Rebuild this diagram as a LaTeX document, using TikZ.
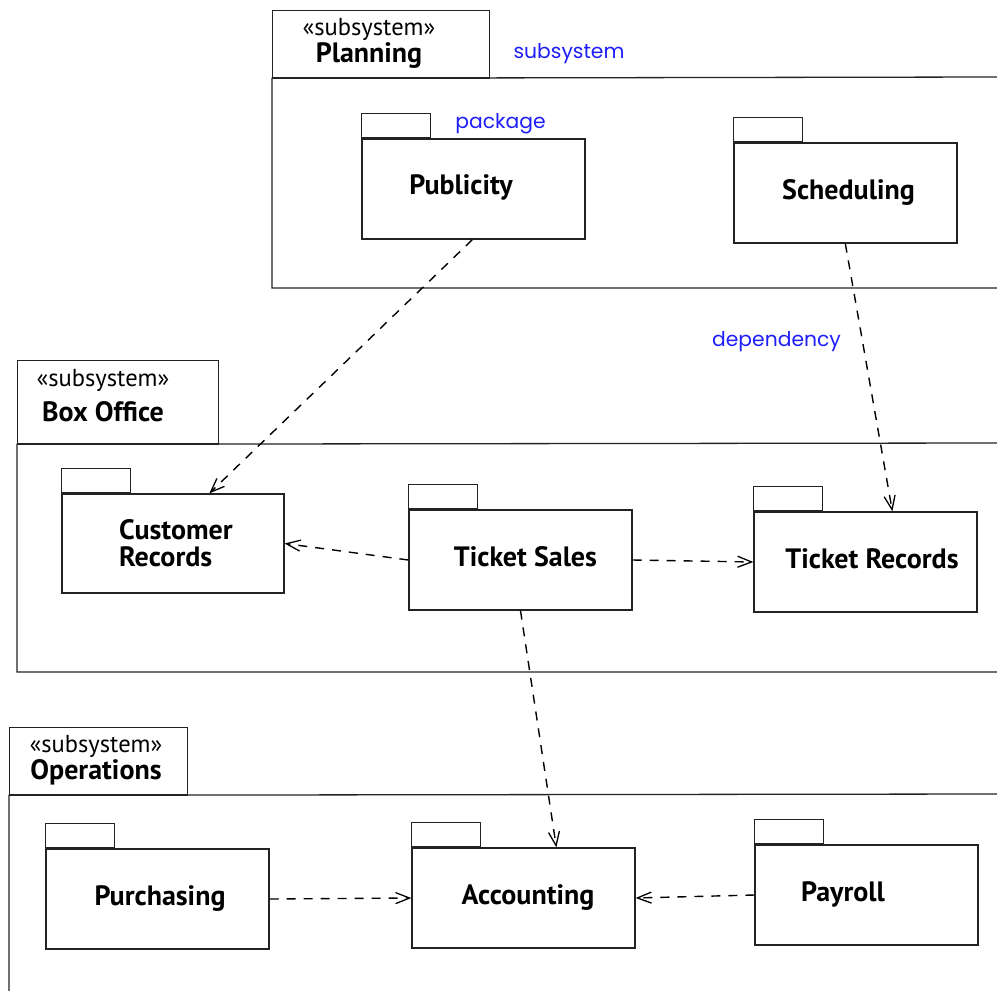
\documentclass[tikz,border=0pt]{standalone}
\usepackage{fontspec}
\setmainfont{PT Sans}
\newfontfamily\bluefont{Poppins}
\usetikzlibrary{arrows.meta}
\definecolor{notecol}{RGB}{30,30,250}
\definecolor{linecol}{RGB}{35,35,35}
\newcommand\pkgtab[1]{%
  \draw[ln] (#1.north west) rectangle ++(69,-25);
  \draw[line width=2pt, draw=linecol] (#1.north west) -- ++(69,0);}
\begin{document}
\begin{tikzpicture}[x=1pt,y=-1pt,
  ln/.style={line width=1.3pt, draw=linecol},
  pkg/.style={ln, rectangle, minimum width=223pt, minimum height=100pt, inner sep=0pt},
  tabbox/.style={ln, rectangle, inner sep=0pt, anchor=north west},
  lbl/.style={font=\fontsize{28}{27}\selectfont\bfseries, anchor=base, inner sep=0pt},
  stereo/.style={font=\fontsize{24.5}{26}\selectfont, anchor=base, inner sep=0pt},
  note/.style={font=\bluefont\fontsize{20.3}{20}\selectfont, text=notecol, anchor=base, inner sep=0pt},
  dep/.style={line width=1.4pt, draw=black, dash pattern=on 9pt off 8pt, -{Straight Barb[length=14pt,width=11pt,line width=1.3pt]}},
]
\useasboundingbox (0,0) rectangle (997,991);

% ---------- Planning subsystem ----------
\node[tabbox, minimum width=217pt, minimum height=67pt] (plantab) at (272,10) {};
\draw[ln] (997,77) -- (plantab.south west) -- (272,288) -- (997,288);
\draw[line width=2pt, draw=linecol] (plantab.south west) -- (plantab.south east);
\node[stereo] (planst) at (369,35) {«subsystem»};
\node[lbl] (planname) at (369,62) {Planning};
\node[note] (notesub) at (569,58) {subsystem};

\node[pkg] (pub) at (473.5,189) {};
\pkgtab{pub}
\node[lbl] (pubt) at (461,194) {Publicity};
\node[note] (notepkg) at (500.5,128) {package};

\node[pkg] (sch) at (845.5,193) {};
\pkgtab{sch}
\node[lbl] (scht) at (848.5,199) {Scheduling};

\node[note] (notedep) at (776.5,346) {dependency};

% ---------- Box Office subsystem ----------
\node[tabbox, minimum width=201pt, minimum height=83pt] (boxtab) at (17,360) {};
\draw[ln] (997,443) -- (boxtab.south west) -- (17,672) -- (997,672);
\draw[line width=2pt, draw=linecol] (boxtab.south west) -- (boxtab.south east);
\node[stereo] (boxst) at (103,386) {«subsystem»};
\node[lbl] (boxname) at (103,421) {Box Office};

\node[pkg, minimum width=222pt, minimum height=99pt] (cr) at (173,543.5) {};
\pkgtab{cr}
\node[lbl, anchor=base west, align=left] (crt) at (119,566) {Customer\\Records};

\node[pkg] (ts) at (520.5,560) {};
\pkgtab{ts}
\node[lbl] (tst) at (525.5,566) {Ticket Sales};

\node[pkg] (tr) at (865.5,562) {};
\pkgtab{tr}
\node[lbl] (trt) at (872,568) {Ticket Records};

% ---------- Operations subsystem ----------
\node[tabbox, minimum width=178pt, minimum height=67pt] (optab) at (9,727) {};
\draw[ln] (997,794) -- (optab.south west) -- (9,995);
\draw[line width=2pt, draw=linecol] (optab.south west) -- (optab.south east);
\node[stereo] (opst) at (96,752) {«subsystem»};
\node[lbl] (opname) at (96,779) {Operations};

\node[pkg] (pur) at (157.5,899) {};
\pkgtab{pur}
\node[lbl] (purt) at (160,905) {Purchasing};

\node[pkg] (acc) at (523.5,898) {};
\pkgtab{acc}
\node[lbl] (acct) at (528,904) {Accounting};

\node[pkg] (pay) at (866.5,895) {};
\pkgtab{pay}
\node[lbl] (payt) at (843,901) {Payroll};

% ---------- dependencies ----------
\draw[dep] ([xshift=111pt]pub.south west) -- ([xshift=148pt]cr.north west);
\draw[dep] ([xshift=112pt]sch.south west) -- ([xshift=139pt]tr.north west);
\draw[dep] (ts.west) -- (cr.east);
\draw[dep] (ts.east) -- (tr.west);
\draw[dep] (ts.south) -- ([xshift=145pt]acc.north west);
\draw[dep] (pur.east) -- (acc.west);
\draw[dep] (pay.west) -- (acc.east);
\end{tikzpicture}
\end{document}
